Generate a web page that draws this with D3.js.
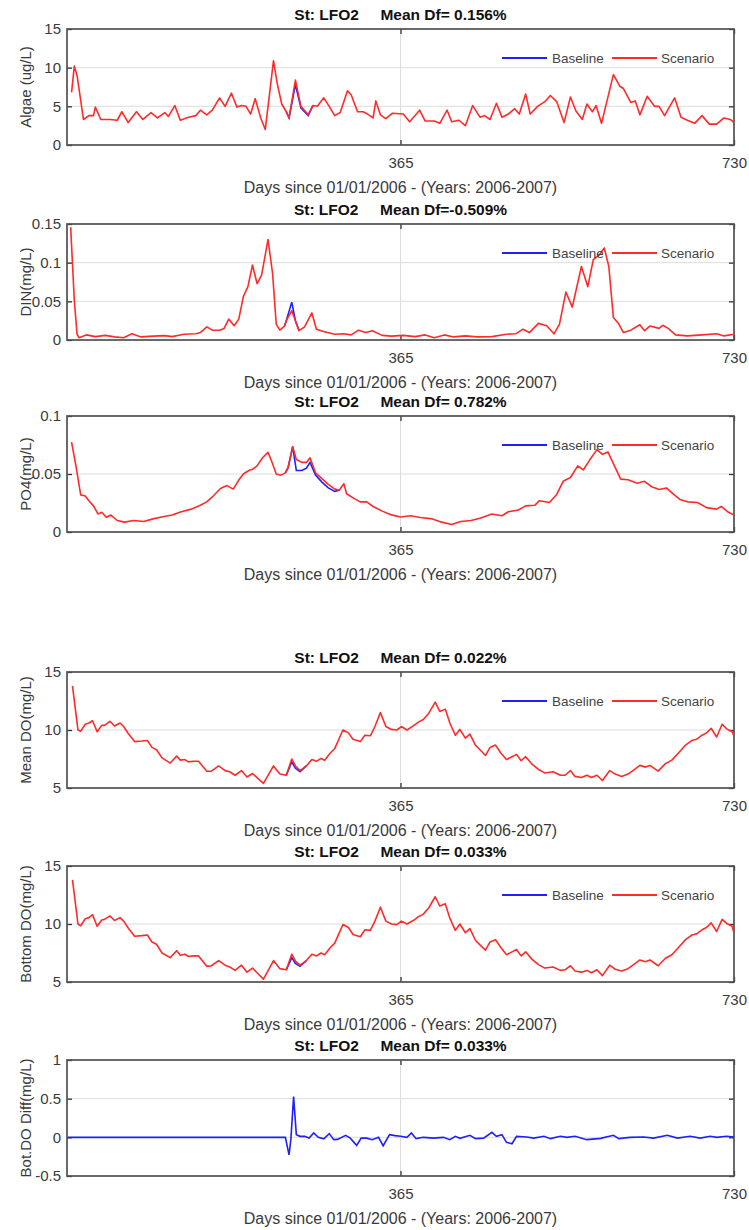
<!DOCTYPE html>
<html lang='en'>

<head>
    <meta charset='utf-8'>
    <title>LFO2 water quality</title>
    <style>
        body {
            margin: 0;
            background-color: #ffffff;
            font-family: 'Liberation Sans', Arial, sans-serif;
        }

        text {
            font-family: 'Liberation Sans', Arial, sans-serif;
        }
    </style>
    <script src='https://d3js.org/d3.v7.min.js' charset='utf-8'></script>
</head>

<body>
    <div id='placeholder'></div>
    <script type="text/javascript">
        const WIDTH = 749;
        const HEIGHT = 1230;

        // x ticks shared by every panel
        const xTicks = [365, 730];

        // Algae (ug/L)
        const algaeDays = [5, 8, 11, 18, 24, 29, 31, 37, 47, 55, 60, 67, 76, 83, 92, 99, 107, 111, 118, 124, 133, 141, 146, 153, 159, 167, 173, 180, 186, 191, 196, 201, 206, 212, 217, 226, 230, 235, 240, 243, 250, 256, 264, 269, 274, 281, 287, 293, 299, 307, 311, 318, 324, 329, 335, 338, 343, 349, 356, 368, 375, 386, 392, 402, 408, 416, 421, 429, 436, 444, 452, 457, 463, 470, 476, 483, 490, 495, 502, 507, 515, 523, 529, 536, 544, 551, 557, 564, 569, 575, 579, 585, 598, 605, 609, 617, 622, 627, 635, 643, 648, 654, 665, 672, 679, 687, 695, 703, 711, 719, 726, 730];
        const algaeScen = [6.8, 10.2, 9.0, 3.3, 3.8, 3.8, 4.9, 3.3, 3.3, 3.2, 4.3, 2.9, 4.3, 3.3, 4.2, 3.5, 4.2, 3.7, 5.1, 3.2, 3.6, 3.8, 4.5, 3.9, 4.5, 6.1, 5.0, 6.7, 4.9, 5.1, 5.0, 4.0, 6.0, 3.5, 2.0, 10.9, 8.0, 5.3, 4.3, 3.5, 8.4, 5.0, 3.9, 5.1, 5.0, 6.1, 5.0, 3.8, 4.2, 7.0, 6.5, 4.3, 4.3, 4.0, 3.5, 5.7, 3.9, 3.4, 4.1, 4.0, 3.0, 4.5, 3.1, 3.1, 2.8, 4.5, 3.0, 3.2, 2.5, 5.1, 3.6, 3.8, 3.3, 5.4, 3.6, 4.0, 4.7, 4.0, 6.6, 4.0, 5.0, 5.6, 6.4, 5.6, 2.9, 6.2, 4.4, 3.3, 5.3, 4.3, 5.1, 2.8, 9.1, 7.6, 7.3, 5.5, 5.7, 3.9, 6.3, 5.0, 5.0, 3.8, 6.1, 3.6, 3.2, 2.8, 3.8, 2.7, 2.7, 3.5, 3.3, 2.9];
        const algaeBaseDays = [240, 243, 250, 256, 264, 269];
        const algaeBase = [4.3, 3.5, 7.8, 4.8, 3.8, 5.1];

        // DIN (mg/L)
        const dinDays = [4, 8, 11, 13, 21, 31, 42, 52, 62, 71, 81, 94, 107, 115, 128, 141, 146, 153, 159, 167, 172, 177, 183, 188, 193, 198, 203, 208, 213, 220, 225, 229, 233, 238, 240, 246, 250, 254, 260, 268, 273, 278, 285, 293, 303, 311, 319, 327, 334, 345, 355, 368, 381, 392, 402, 413, 423, 436, 449, 465, 481, 491, 499, 506, 516, 525, 533, 539, 546, 553, 563, 570, 576, 583, 588, 593, 598, 604, 609, 617, 627, 632, 638, 648, 652, 658, 666, 679, 695, 711, 719, 730];
        const dinScen = [0.146, 0.051, 0.0075, 0.003, 0.0066, 0.0044, 0.006, 0.004, 0.003, 0.008, 0.004, 0.005, 0.0057, 0.0044, 0.0075, 0.008, 0.0096, 0.017, 0.0127, 0.0127, 0.015, 0.027, 0.0184, 0.027, 0.056, 0.069, 0.097, 0.073, 0.084, 0.130, 0.086, 0.0206, 0.0127, 0.018, 0.025, 0.038, 0.025, 0.012, 0.017, 0.035, 0.014, 0.012, 0.0096, 0.0075, 0.008, 0.0066, 0.0127, 0.0096, 0.012, 0.006, 0.005, 0.006, 0.0044, 0.0066, 0.003, 0.0066, 0.004, 0.0053, 0.004, 0.0044, 0.0075, 0.008, 0.014, 0.0096, 0.0215, 0.0184, 0.008, 0.0206, 0.062, 0.0425, 0.095, 0.069, 0.104, 0.1105, 0.119, 0.095, 0.029, 0.0206, 0.0096, 0.0127, 0.0197, 0.012, 0.018, 0.015, 0.019, 0.015, 0.0066, 0.0053, 0.0066, 0.008, 0.0053, 0.0075];
        const dinBaseDays = [238, 240, 246, 250, 254];
        const dinBase = [0.018, 0.025, 0.049, 0.025, 0.012];

        // PO4 (mg/L)
        const po4Days = [5, 10, 15, 20, 24, 29, 34, 38, 43, 48, 55, 63, 73, 84, 94, 105, 115, 125, 136, 146, 153, 160, 168, 175, 182, 189, 193, 199, 203, 208, 214, 220, 224, 229, 234, 239, 242, 247, 251, 257, 262, 266, 272, 279, 286, 293, 298, 303, 306, 314, 321, 328, 335, 345, 354, 365, 376, 387, 400, 410, 421, 431, 442, 452, 465, 476, 483, 494, 502, 512, 517, 528, 536, 543, 551, 559, 565, 572, 580, 586, 592, 598, 606, 614, 624, 632, 640, 648, 656, 664, 671, 679, 690, 700, 711, 716, 724, 730];
        const po4Scen = [0.0775, 0.056, 0.032, 0.031, 0.027, 0.0225, 0.0155, 0.017, 0.0127, 0.0146, 0.0099, 0.0085, 0.0099, 0.009, 0.0113, 0.0132, 0.0146, 0.0175, 0.0197, 0.023, 0.026, 0.031, 0.0375, 0.040, 0.037, 0.046, 0.050, 0.053, 0.054, 0.057, 0.064, 0.0686, 0.061, 0.050, 0.049, 0.051, 0.0555, 0.0736, 0.0625, 0.060, 0.060, 0.064, 0.051, 0.046, 0.041, 0.037, 0.036, 0.0417, 0.033, 0.029, 0.026, 0.026, 0.022, 0.018, 0.015, 0.013, 0.014, 0.0125, 0.0113, 0.0085, 0.0065, 0.009, 0.0099, 0.0118, 0.0155, 0.014, 0.0175, 0.019, 0.0225, 0.023, 0.027, 0.0254, 0.0324, 0.0437, 0.047, 0.057, 0.0535, 0.062, 0.071, 0.067, 0.069, 0.059, 0.0456, 0.045, 0.042, 0.0437, 0.039, 0.0366, 0.038, 0.0324, 0.028, 0.026, 0.0254, 0.021, 0.0197, 0.022, 0.017, 0.0146];
        const po4BaseDays = [239, 242, 247, 251, 257, 262, 266, 272, 279, 286, 293, 298];
        const po4Base = [0.051, 0.0555, 0.0736, 0.053, 0.053, 0.055, 0.060, 0.049, 0.043, 0.038, 0.035, 0.036];

        // Mean DO and Bottom DO (mg/L), same days
        const doDays = [6, 12, 15, 20, 24, 28, 33, 38, 41, 47, 52, 58, 62, 67, 74, 82, 88, 93, 98, 104, 113, 120, 124, 129, 133, 138, 144, 153, 158, 166, 173, 178, 184, 191, 197, 203, 208, 215, 226, 233, 240, 246, 250, 255, 262, 268, 273, 278, 282, 288, 293, 302, 308, 313, 321, 326, 332, 337, 343, 349, 355, 361, 366, 372, 379, 385, 390, 396, 403, 408, 414, 419, 425, 430, 436, 441, 447, 452, 458, 463, 469, 475, 481, 487, 492, 497, 502, 509, 516, 523, 532, 540, 545, 551, 556, 563, 569, 574, 580, 586, 594, 600, 607, 614, 622, 627, 633, 638, 647, 655, 662, 669, 677, 684, 689, 695, 700, 705, 711, 717, 722, 728, 730];
        const meanDoScen = [13.8, 10.0, 9.9, 10.5, 10.6, 10.8, 9.85, 10.4, 10.4, 10.75, 10.35, 10.6, 10.3, 9.7, 9.0, 9.05, 9.1, 8.5, 8.3, 7.6, 7.15, 7.75, 7.4, 7.45, 7.25, 7.3, 7.3, 6.45, 6.45, 6.9, 6.5, 6.4, 6.1, 6.5, 5.95, 6.25, 5.9, 5.4, 6.9, 6.2, 6.1, 7.5, 6.9, 6.5, 6.9, 7.45, 7.3, 7.55, 7.4, 8.0, 8.4, 10.0, 9.75, 9.2, 9.0, 9.55, 9.5, 10.3, 11.5, 10.3, 10.05, 10.0, 10.3, 10.0, 10.35, 10.7, 10.9, 11.45, 12.4, 11.6, 11.8, 10.6, 9.55, 10.05, 9.3, 9.65, 8.7, 8.3, 7.8, 8.5, 8.7, 8.0, 7.45, 7.7, 7.9, 7.35, 7.7, 7.05, 6.6, 6.3, 6.4, 6.1, 6.1, 6.5, 6.0, 5.9, 6.1, 5.9, 6.1, 5.65, 6.5, 6.2, 6.0, 6.2, 6.65, 6.95, 6.8, 6.95, 6.45, 7.1, 7.4, 8.0, 8.7, 9.1, 9.2, 9.55, 9.75, 10.15, 9.4, 10.5, 10.1, 9.85, 9.5];
        const meanDoBaseDays = [240, 246, 250, 255, 262];
        const meanDoBase = [6.1, 7.25, 6.7, 6.4, 6.9];
        const botDoScen = [13.8, 10.0, 9.85, 10.45, 10.55, 10.8, 9.8, 10.35, 10.4, 10.7, 10.3, 10.55, 10.25, 9.65, 8.95, 9.0, 9.05, 8.45, 8.25, 7.5, 7.1, 7.7, 7.3, 7.4, 7.2, 7.25, 7.25, 6.35, 6.4, 6.85, 6.45, 6.3, 6.0, 6.45, 5.85, 6.2, 5.8, 5.25, 6.85, 6.15, 6.05, 7.4, 6.8, 6.45, 6.85, 7.4, 7.25, 7.5, 7.35, 7.95, 8.35, 9.95, 9.7, 9.1, 8.9, 9.5, 9.45, 10.25, 11.45, 10.25, 10.0, 9.95, 10.25, 10.0, 10.3, 10.65, 10.85, 11.4, 12.35, 11.55, 11.75, 10.5, 9.45, 10.0, 9.25, 9.6, 8.6, 8.2, 7.75, 8.45, 8.65, 7.95, 7.35, 7.6, 7.8, 7.25, 7.6, 6.95, 6.5, 6.2, 6.3, 6.0, 6.05, 6.4, 5.95, 5.85, 6.0, 5.8, 6.05, 5.55, 6.45, 6.1, 5.95, 6.15, 6.6, 6.9, 6.75, 6.9, 6.4, 7.05, 7.35, 7.95, 8.65, 9.05, 9.15, 9.5, 9.7, 10.1, 9.35, 10.4, 10.05, 9.8, 9.2];
        const botDoBaseDays = [240, 246, 250, 255, 262];
        const botDoBase = [6.05, 7.1, 6.6, 6.35, 6.85];

        // Bottom DO difference (mg/L)
        const diffDays = [1, 239, 243, 245, 248, 251, 255, 260, 265, 270, 275, 281, 287, 292, 296, 305, 310, 317, 322, 328, 334, 341, 346, 353, 359, 365, 372, 377, 382, 390, 401, 412, 419, 425, 430, 441, 447, 456, 465, 470, 476, 481, 487, 492, 503, 511, 522, 529, 540, 547, 556, 569, 584, 598, 604, 616, 631, 642, 657, 668, 682, 693, 704, 711, 722, 730];
        const diffVals = [0, 0, -0.226, -0.03, 0.526, 0.035, 0.013, 0.013, -0.01, 0.057, 0, -0.02, 0.048, -0.03, -0.026, 0.026, -0.01, -0.104, -0.01, -0.01, -0.03, 0, -0.109, 0.035, 0.022, 0.013, 0, 0.057, -0.017, 0, -0.01, 0, -0.03, 0.013, -0.013, 0.026, -0.017, -0.01, 0.065, 0.013, 0.035, -0.065, -0.083, 0.013, 0.004, -0.01, 0.013, -0.017, 0.013, 0, 0.013, -0.03, -0.013, 0.026, -0.017, 0, 0.004, -0.01, 0.026, -0.01, 0.013, -0.01, 0.013, 0, 0.013, 0.004];

        const LEFT = 67;
        const RIGHT = 734;
        const PANEL_H = 116;
        const BLUE = '#1f1fff';
        const RED = '#ff2a2a';
        const XLABEL = 'Days since 01/01/2006 - (Years: 2006-2007)';

        var panels = [
            { top: 29, title: 'St: LFO2     Mean Df= 0.156%', ylabel: 'Algae (ug/L)', domain: [0, 15], ticks: [0, 5, 10, 15], days: algaeDays, scen: algaeScen, baseDays: algaeBaseDays, base: algaeBase },
            { top: 224, title: 'St: LFO2     Mean Df=-0.509%', ylabel: 'DIN(mg/L)', domain: [0, 0.15], ticks: [0, 0.05, 0.1, 0.15], days: dinDays, scen: dinScen, baseDays: dinBaseDays, base: dinBase },
            { top: 416, title: 'St: LFO2     Mean Df= 0.782%', ylabel: 'PO4(mg/L)', domain: [0, 0.1], ticks: [0, 0.05, 0.1], days: po4Days, scen: po4Scen, baseDays: po4BaseDays, base: po4Base },
            { top: 672, title: 'St: LFO2     Mean Df= 0.022%', ylabel: 'Mean DO(mg/L)', domain: [5, 15], ticks: [5, 10, 15], days: doDays, scen: meanDoScen, baseDays: meanDoBaseDays, base: meanDoBase },
            { top: 866, title: 'St: LFO2     Mean Df= 0.033%', ylabel: 'Bottom DO(mg/L)', domain: [5, 15], ticks: [5, 10, 15], days: doDays, scen: botDoScen, baseDays: botDoBaseDays, base: botDoBase },
            { top: 1060, title: 'St: LFO2     Mean Df= 0.033%', ylabel: 'Bot.DO Diff(mg/L)', domain: [-0.5, 1], ticks: [-0.5, 0, 0.5, 1], diffDays: diffDays, diff: diffVals }
        ];

        var svg = d3.select('#placeholder')
            .append('svg')
            .attr('width', WIDTH)
            .attr('height', HEIGHT)
            .style('display', 'block');

        var x = d3.scaleLinear().domain([0, 730]).range([LEFT, RIGHT]);

        panels.forEach(function (p, i) {
            var bottom = p.top + PANEL_H;
            var y = d3.scaleLinear().domain(p.domain).range([bottom, p.top]);
            var g = svg.append('g');
            var line = d3.line()
                .x(function (d) { return x(d[0]); })
                .y(function (d) { return y(d[1]); });

            g.append('clipPath')
                .attr('id', 'clip' + i)
                .append('rect')
                .attr('x', LEFT)
                .attr('y', p.top)
                .attr('width', RIGHT - LEFT)
                .attr('height', PANEL_H);

            // grid
            g.selectAll('.ygrid')
                .data(p.ticks.slice(1, -1))
                .enter()
                .append('line')
                .attr('x1', LEFT)
                .attr('x2', RIGHT)
                .attr('y1', function (d) { return y(d); })
                .attr('y2', function (d) { return y(d); })
                .attr('stroke', '#dcdcdc')
                .attr('stroke-width', 1);

            g.append('line')
                .attr('x1', x(365))
                .attr('x2', x(365))
                .attr('y1', p.top)
                .attr('y2', bottom)
                .attr('stroke', '#dcdcdc')
                .attr('stroke-width', 1);

            // axes
            var yAxisL = d3.axisLeft(y).tickValues(p.ticks).tickSize(-5).tickPadding(6)
                .tickFormat(function (d) { return String(+d.toFixed(3)); });
            var yAxisR = d3.axisRight(y).tickValues(p.ticks).tickSize(-5).tickFormat('');
            var xAxisB = d3.axisBottom(x).tickValues(xTicks).tickSize(-5).tickPadding(12);
            var xAxisT = d3.axisTop(x).tickValues(xTicks).tickSize(-5).tickFormat('');

            [g.append('g').attr('transform', 'translate(' + LEFT + ',0)').call(yAxisL),
             g.append('g').attr('transform', 'translate(' + RIGHT + ',0)').call(yAxisR),
             g.append('g').attr('transform', 'translate(0,' + bottom + ')').call(xAxisB),
             g.append('g').attr('transform', 'translate(0,' + p.top + ')').call(xAxisT)]
                .forEach(function (a) {
                    a.select('.domain').remove();
                    a.selectAll('.tick line').attr('stroke', '#333').attr('stroke-width', 1.3);
                    a.selectAll('.tick text')
                        .attr('fill', '#3a3a3a')
                        .style('font-size', '15px');
                });

            g.append('rect')
                .attr('x', LEFT)
                .attr('y', p.top)
                .attr('width', RIGHT - LEFT)
                .attr('height', PANEL_H)
                .attr('fill', 'none')
                .attr('stroke', '#505050')
                .attr('stroke-width', 1.7);

            var lines = g.append('g').attr('clip-path', 'url(#clip' + i + ')');

            if (p.diff) {
                lines.append('path')
                    .datum(d3.zip(p.diffDays, p.diff))
                    .attr('d', line)
                    .attr('fill', 'none')
                    .attr('stroke', BLUE)
                    .attr('stroke-width', 1.6);
            } else {
                lines.append('path')
                    .datum(d3.zip(p.baseDays, p.base))
                    .attr('d', line)
                    .attr('fill', 'none')
                    .attr('stroke', BLUE)
                    .attr('stroke-width', 1.6);
                lines.append('path')
                    .datum(d3.zip(p.days, p.scen))
                    .attr('d', line)
                    .attr('fill', 'none')
                    .attr('stroke', RED)
                    .attr('stroke-width', 1.6)
                    .attr('stroke-linejoin', 'round');

                // legend
                var ly = p.top + 29;
                g.append('line').attr('x1', 502).attr('x2', 547).attr('y1', ly).attr('y2', ly)
                    .attr('stroke', BLUE).attr('stroke-width', 1.8);
                g.append('text').attr('x', 552).attr('y', ly + 5).text('Baseline')
                    .attr('fill', '#444').style('font-size', '13.5px');
                g.append('line').attr('x1', 612).attr('x2', 657).attr('y1', ly).attr('y2', ly)
                    .attr('stroke', RED).attr('stroke-width', 1.8);
                g.append('text').attr('x', 661).attr('y', ly + 5).text('Scenario')
                    .attr('fill', '#444').style('font-size', '13.5px');
            }

            // title and labels
            g.append('text')
                .attr('x', (LEFT + RIGHT) / 2)
                .attr('y', p.top - 9)
                .attr('text-anchor', 'middle')
                .style('white-space', 'pre')
                .attr('font-weight', 'bold')
                .style('font-size', '15.5px')
                .attr('fill', '#111')
                .text(p.title);

            g.append('text')
                .attr('x', (LEFT + RIGHT) / 2)
                .attr('y', bottom + 48)
                .attr('text-anchor', 'middle')
                .style('font-size', '16px')
                .attr('fill', '#3a3a3a')
                .text(XLABEL);

            g.append('text')
                .attr('transform', 'translate(31,' + (p.top + PANEL_H / 2) + ') rotate(-90)')
                .attr('text-anchor', 'middle')
                .style('font-size', '15px')
                .attr('fill', '#3a3a3a')
                .text(p.ylabel);
        });
    </script>
</body>

</html>
